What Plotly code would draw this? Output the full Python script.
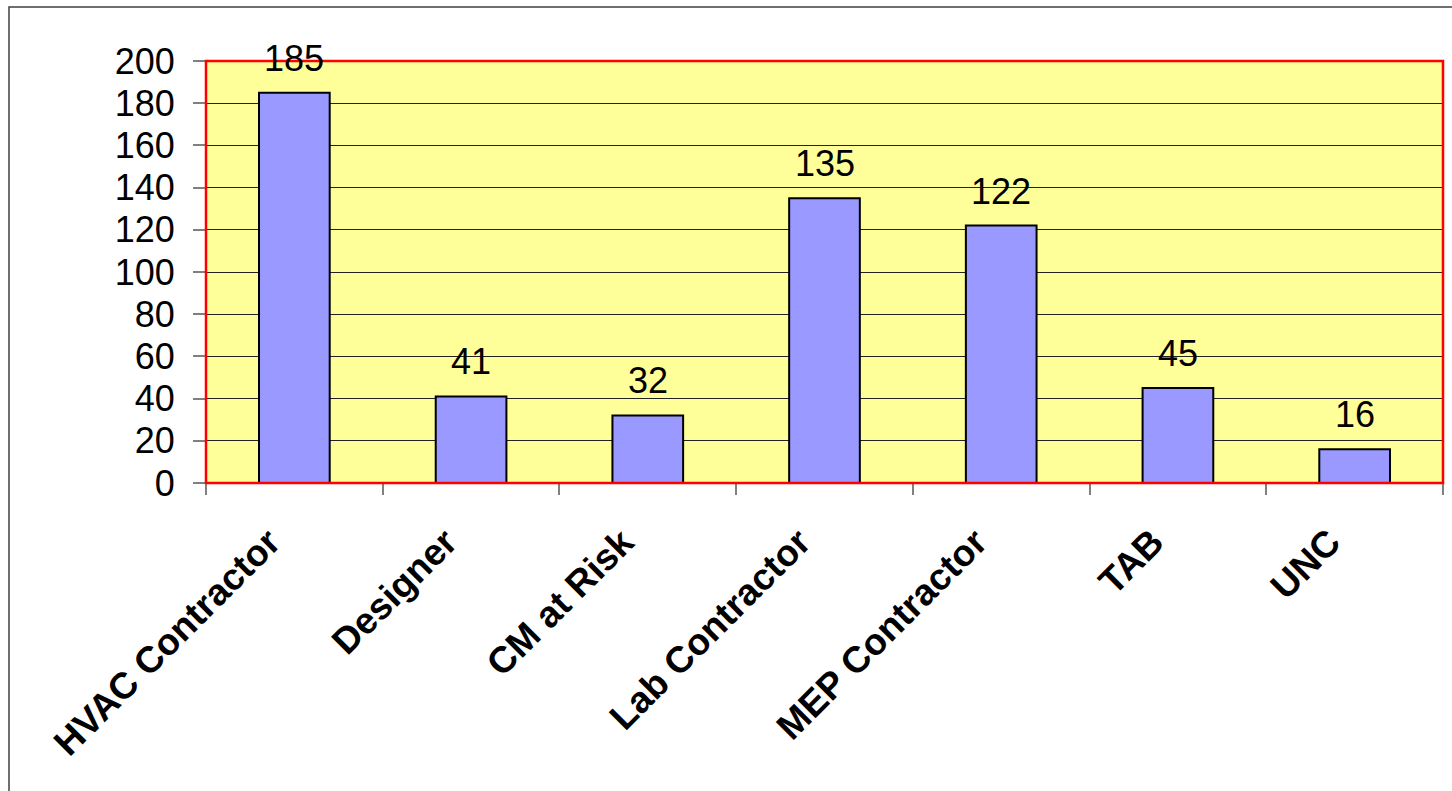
import plotly.graph_objects as go

categories = ["HVAC Contractor", "Designer", "CM at Risk", "Lab Contractor",
              "MEP Contractor", "TAB", "UNC"]
values = [185, 41, 32, 135, 122, 45, 16]
y_ticks = [0, 20, 40, 60, 80, 100, 120, 140, 160, 180, 200]

FONT = "Liberation Sans, Arial, sans-serif"

fig = go.Figure()
fig.add_trace(go.Bar(
    x=categories, y=values,
    marker=dict(color="#9999FF", line=dict(color="#000000", width=2)),
    hoverinfo="x+y",
))

for c, v in zip(categories, values):
    fig.add_annotation(x=c, y=v, text=str(v), showarrow=False,
                       yanchor="bottom", yshift=12,
                       font=dict(family=FONT, size=36, color="#000000"))

L, R, T, B = 206, 9, 61, 308
W, H = 1452, 791
pw, ph = W - L - R, H - T - B

# outer chart border (extends past right/bottom edge)
fig.add_shape(type="rect", xref="paper", yref="paper",
              x0=(9 - L) / pw, x1=(W + 20 - L) / pw,
              y0=-(H + 20 - (T + ph)) / ph, y1=(T + ph - 7) / ph,
              line=dict(color="#404040", width=1.5), fillcolor="rgba(0,0,0,0)",
              layer="below")
# plot-area border
fig.add_shape(type="rect", xref="paper", yref="paper", x0=0, x1=1, y0=0, y1=1,
              line=dict(color="#FF0000", width=2.5), fillcolor="rgba(0,0,0,0)",
              layer="above")

fig.update_layout(
    width=W, height=H,
    margin=dict(l=L, r=R, t=T, b=B, pad=0),
    paper_bgcolor="#FFFFFF", plot_bgcolor="#FFFF99",
    bargap=0.6, showlegend=False,
    font=dict(family=FONT, color="#000000"),
)
fig.update_xaxes(
    type="category", tickson="boundaries", ticks="outside", ticklen=11,
    tickcolor="#808080", tickwidth=1.5, tickangle=-45,
    tickfont=dict(family=FONT, size=37, color="#000000", weight="bold"),
    ticklabelstandoff=29, ticklabelshift=-25,
    showgrid=False, showline=False, zeroline=False,
)
fig.update_yaxes(
    range=[0, 200], tickvals=y_ticks, ticks="outside", ticklen=12,
    tickcolor="#808080", tickwidth=1.5,
    tickfont=dict(family=FONT, size=36, color="#000000"),
    ticklabelstandoff=11,
    showgrid=True, gridcolor="#222222", gridwidth=1,
    zeroline=False, showline=False,
)

fig.write_html("out.html")
